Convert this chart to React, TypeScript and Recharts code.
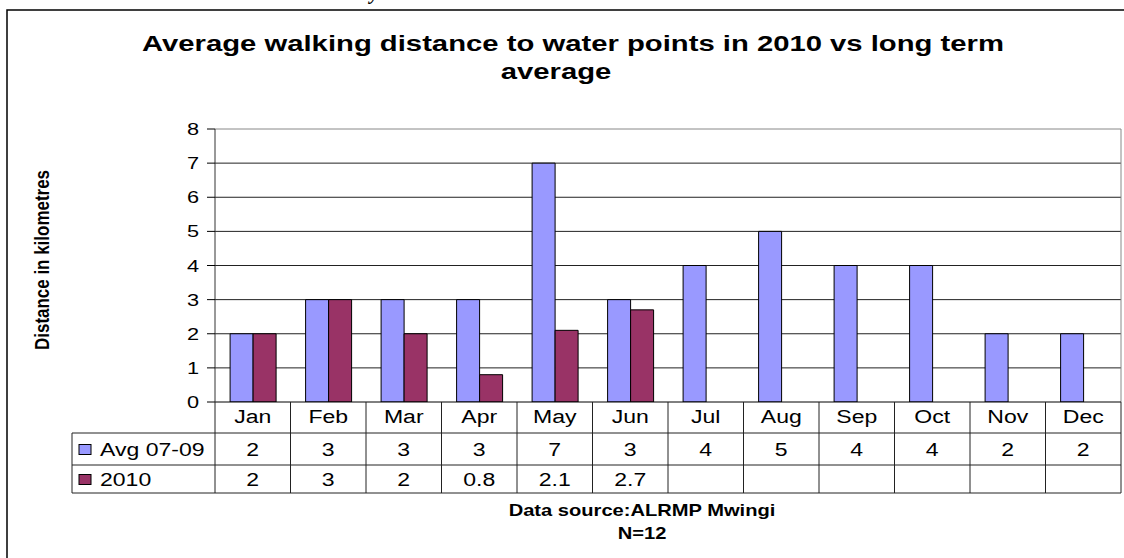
import React from 'react';
import { BarChart, Bar, XAxis, YAxis, CartesianGrid, ReferenceLine } from 'recharts';

const categories = ['Jan', 'Feb', 'Mar', 'Apr', 'May', 'Jun', 'Jul', 'Aug', 'Sep', 'Oct', 'Nov', 'Dec'];
const avgValues: (number | null)[] = [2, 3, 3, 3, 7, 3, 4, 5, 4, 4, 2, 2];
const values2010: (number | null)[] = [2, 3, 2, 0.8, 2.1, 2.7, null, null, null, null, null, null];
const seriesNames = ['Avg 07-09', '2010'];
const yTicks = [0, 1, 2, 3, 4, 5, 6, 7, 8];
const titleLines = ['Average walking distance to water points in 2010 vs long term', 'average'];
const footnotes = ['Data source:ALRMP Mwingi', 'N=12'];
const yLabel = 'Distance in kilometres';

const COLORS = ['#9999FF', '#993366'];
const FONT = '"Liberation Sans", Arial, sans-serif';
const SX = 1.28;

const W = 1124;
const H = 558;
const PL = 215;
const PR = 1121;
const PT = 129;
const PB = 402;
const TABLE_LEFT = 72;
const ROW1 = 433;
const ROW2 = 465;
const ROW3 = 493;
const BAND = (PR - PL) / categories.length;
const LINE = '#222';

const data = categories.map((c, i) => ({ cat: c, avg: avgValues[i], y2010: values2010[i] }));

function ST({ x, y, size, sx = SX, anchor = 'middle', weight = 'normal', children }: any) {
  return (
    <text
      transform={`translate(${x},${y}) scale(${sx},1)`}
      textAnchor={anchor}
      fontSize={size}
      fontWeight={weight}
      fontFamily={FONT}
      fill="#000"
    >
      {children}
    </text>
  );
}

const fmt = (v: number | null) => (v === null || v === undefined ? '' : String(v));

function XTick(props: any) {
  const { x, payload } = props;
  const i = payload && payload.index !== undefined ? payload.index : props.index;
  const half = BAND / 2;
  const rows = [avgValues, values2010];
  return (
    <g>
      {i === 0 && (
        <g>
          <line x1={TABLE_LEFT} x2={PR} y1={ROW1} y2={ROW1} stroke={LINE} strokeWidth={1} />
          <line x1={TABLE_LEFT} x2={PR} y1={ROW2} y2={ROW2} stroke={LINE} strokeWidth={1} />
          <line x1={TABLE_LEFT} x2={PR} y1={ROW3} y2={ROW3} stroke={LINE} strokeWidth={1} />
          <line x1={TABLE_LEFT} x2={TABLE_LEFT} y1={ROW1} y2={ROW3} stroke={LINE} strokeWidth={1} />
          {seriesNames.map((n, k) => {
            const top = k === 0 ? ROW1 : ROW2;
            const bottom = k === 0 ? ROW2 : ROW3;
            const mid = (top + bottom) / 2;
            return (
              <g key={n}>
                <rect x={79} y={mid - 4.5} width={12} height={10} fill={COLORS[k]} stroke="#000" strokeWidth={1} />
                <ST x={100} y={mid + 7} size={18} anchor="start">{n}</ST>
              </g>
            );
          })}
        </g>
      )}
      <line x1={x - half} x2={x - half} y1={PB} y2={ROW3} stroke={LINE} strokeWidth={1} />
      {i === categories.length - 1 && (
        <line x1={x + half} x2={x + half} y1={PB} y2={ROW3} stroke={LINE} strokeWidth={1} />
      )}
      <ST x={x} y={423} size={18}>{payload.value}</ST>
      {rows.map((r, k) => {
        const top = k === 0 ? ROW1 : ROW2;
        const bottom = k === 0 ? ROW2 : ROW3;
        return (
          <ST key={k} x={x} y={(top + bottom) / 2 + 7} size={18}>
            {fmt(r[i])}
          </ST>
        );
      })}
    </g>
  );
}

function YTick(props: any) {
  const { x, y, payload } = props;
  return (
    <ST x={x - 6} y={y + 6} size={17} anchor="end">
      {payload.value}
    </ST>
  );
}

export default function App() {
  return (
    <div style={{ position: 'absolute', left: 0, top: 0, width: W, height: H, background: '#fff' }}>
      <BarChart
        width={W}
        height={H}
        data={data}
        margin={{ top: PT, right: W - PR, bottom: H - ROW3 - 0, left: PL - 60 }}
        barCategoryGap="20%"
        barGap={0}
      >
        <rect x={7} y={10} width={W + 10} height={H + 10} fill="none" stroke="#000" strokeWidth={1.5} />
        <text x={370} y={-1} fontSize={20} fontStyle="italic" fontWeight="bold" fontFamily="serif" fill="#000">y</text>
        <CartesianGrid horizontal vertical={false} stroke={LINE} strokeWidth={1} horizontalValues={[1, 2, 3, 4, 5, 6, 7]} />
        <ReferenceLine y={8} stroke="#888" strokeWidth={1} />
        <XAxis
          dataKey="cat"
          height={ROW3 - PB}
          tickLine={false}
          axisLine={{ stroke: '#000', strokeWidth: 1 }}
          tick={<XTick />}
          interval={0}
        />
        <YAxis
          domain={[0, 8]}
          ticks={yTicks}
          width={60}
          tickSize={8}
          tickLine={{ stroke: '#000' }}
          axisLine={{ stroke: '#333' }}
          tick={<YTick />}
          interval={0}
          allowDataOverflow
        />
        <Bar dataKey="avg" name={seriesNames[0]} fill={COLORS[0]} stroke="#000" strokeWidth={1} isAnimationActive={false} />
        <Bar dataKey="y2010" name={seriesNames[1]} fill={COLORS[1]} stroke="#000" strokeWidth={1} isAnimationActive={false} />
        <line x1={PR} x2={PR} y1={PT} y2={PB} stroke="#888" strokeWidth={1} />
        <ST x={573} y={51} size={22} sx={1.33} weight="bold">{titleLines[0]}</ST>
        <ST x={556} y={79} size={22} sx={1.33} weight="bold">{titleLines[1]}</ST>
        <ST x={642} y={516} size={16.5} sx={1.22} weight="bold">{footnotes[0]}</ST>
        <ST x={642} y={539} size={16.5} sx={1.22} weight="bold">{footnotes[1]}</ST>
        <text
          transform={`translate(49,260) rotate(-90) scale(1,1.3)`}
          textAnchor="middle"
          fontSize={15.5}
          fontWeight="bold"
          fontFamily={FONT}
          textLength={180}
          lengthAdjust="spacingAndGlyphs"
          fill="#000"
        >
          {yLabel}
        </text>
      </BarChart>
    </div>
  );
}
